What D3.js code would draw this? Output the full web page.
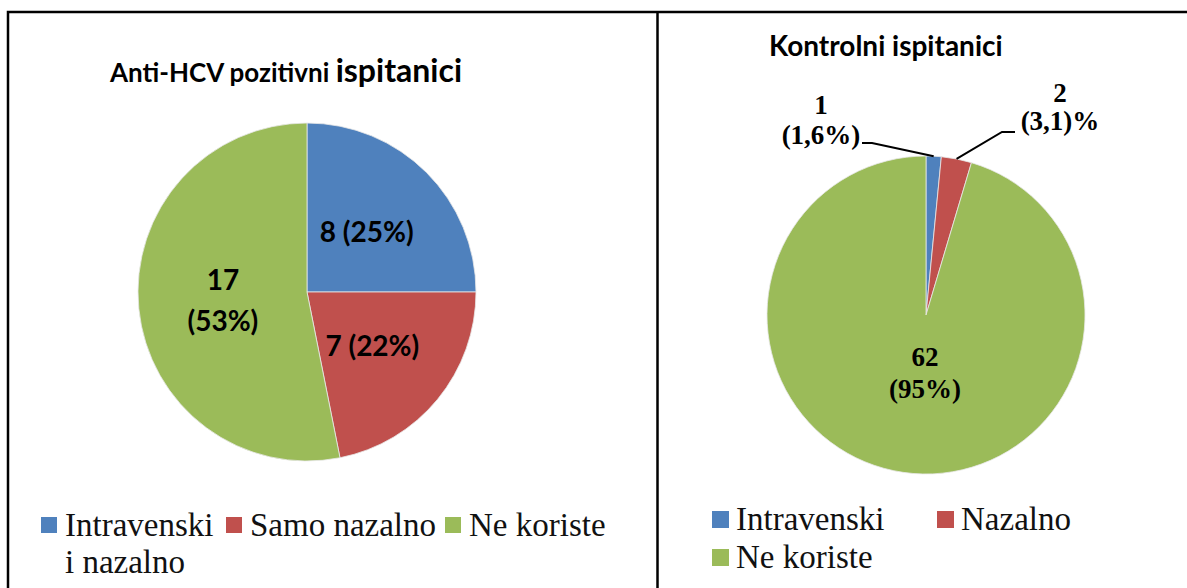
<!DOCTYPE html>
<html>
<head>
<meta charset="utf-8">
<script src="https://cdn.jsdelivr.net/npm/d3@7"></script>
<style>
  body { margin: 0; background: #fff; }
  svg { display: block; }
</style>
</head>
<body>
<svg id="chart" width="1187" height="588"></svg>
<script>
// categories and values
var leftCategories = ["Intravenski", "Samo nazalno", "Ne koriste"];
var leftValues = [8, 7, 17];
var leftLabels = [["8 (25%)"], ["7 (22%)"], ["17", "(53%)"]];

var rightCategories = ["Intravenski", "Nazalno", "Ne koriste"];
var rightValues = [1, 2, 62];
var rightLabels = [["1", "(1,6%)"], ["2", "(3,1)%"], ["62", "(95%)"]];

var colors = ["#4F81BD", "#C0504D", "#9BBB59"];

var svg = d3.select("#chart");

// frames
svg.append("path")
    .attr("d", "M8,589 L8,12 L1188,12 M657.5,12 L657.5,589")
    .attr("fill", "none")
    .attr("stroke", "#000")
    .attr("stroke-width", 2.5);

var pie = d3.pie().sort(null);

// ---------- Left pie ----------
var left = svg.append("g").attr("transform", "translate(307,292)");
var rL = 169;
var arcL = d3.arc().innerRadius(0).outerRadius(rL);
var leftArcs = pie(leftValues);

left.selectAll("path")
    .data(leftArcs)
    .enter()
    .append("path")
    .attr("d", arcL)
    .attr("fill", function (d, i) { return colors[i]; })
    .attr("stroke", "#e8e8e8")
    .attr("stroke-width", 0.8);

var labelArcL = d3.arc().innerRadius(rL * 0.5).outerRadius(rL * 0.5);
left.selectAll(".lbl")
    .data(leftArcs)
    .enter()
    .append("text")
    .attr("class", "lbl")
    .attr("transform", function (d) { return "translate(" + labelArcL.centroid(d) + ")"; })
    .attr("text-anchor", "middle")
    .style("font-family", "Lato, 'Open Sans', sans-serif")
    .style("font-weight", "bold")
    .style("font-size", "28px")
    .each(function (d, i) {
        var lines = leftLabels[i];
        var t = d3.select(this);
        lines.forEach(function (s, k) {
            t.append("tspan")
                .attr("x", 0)
                .attr("y", (k - (lines.length - 1) / 2) * 41 + 10)
                .text(s);
        });
    });

// title left
var tl = svg.append("text")
    .attr("x", 110)
    .attr("y", 82)
    .style("font-family", "Lato, 'Open Sans', sans-serif")
    .style("font-weight", "bold");
tl.append("tspan").style("font-size", "26px").text("Anti-HCV pozitivni ");
tl.append("tspan").style("font-size", "32px").text("ispitanici");

// legend left
var legL = svg.append("g").style("font-family", "'Liberation Serif', serif").style("font-size", "33px");
var legLpos = [[41, 536], [226, 536], [445, 536]];
leftCategories.forEach(function (c, i) {
    legL.append("rect")
        .attr("x", legLpos[i][0]).attr("y", legLpos[i][1] - 19)
        .attr("width", 16).attr("height", 16)
        .attr("fill", colors[i]);
    legL.append("text")
        .attr("x", legLpos[i][0] + 24).attr("y", legLpos[i][1])
        .attr("fill", "#111")
        .text(c);
});
legL.append("text").attr("x", 65).attr("y", 573).attr("fill", "#111").text("i nazalno");

// ---------- Right pie ----------
var cxR = 926, cyR = 315, rR = 159;
var right = svg.append("g").attr("transform", "translate(" + cxR + "," + cyR + ")");
var arcR = d3.arc().innerRadius(0).outerRadius(rR);
var rightArcs = pie(rightValues);

right.selectAll("path")
    .data(rightArcs)
    .enter()
    .append("path")
    .attr("d", arcR)
    .attr("fill", function (d, i) { return colors[i]; })
    .attr("stroke", "#e8e8e8")
    .attr("stroke-width", 0.8);

// label positions for the right pie (leader lines for the small slices)
var rightLabelPos = [[821, 114], [1060, 102], [925, 366]];
var lineGap = [30, 28, 32];
var elbows = [[872, 143], [1002, 132]];

rightArcs.forEach(function (d, i) {
    var p = rightLabelPos[i];
    var t = svg.append("text")
        .attr("text-anchor", "middle")
        .style("font-family", "'Liberation Serif', 'Times New Roman', serif")
        .style("font-weight", "bold")
        .style("font-size", "27px")
        .attr("fill", "#000");
    rightLabels[i].forEach(function (s, k) {
        t.append("tspan").attr("x", p[0]).attr("y", p[1] + k * lineGap[i]).text(s);
    });
    if (i < 2) {
        var mid = (d.startAngle + d.endAngle) / 2;
        var edge = [cxR + Math.sin(mid) * rR, cyR - Math.cos(mid) * rR];
        var start = i === 0 ? [862, 143] : [1015, 132];
        svg.append("polyline")
            .attr("points", [start, elbows[i], edge].map(function (q) { return q.join(","); }).join(" "))
            .attr("fill", "none")
            .attr("stroke", "#000")
            .attr("stroke-width", 2);
    }
});

// title right
svg.append("text")
    .attr("x", 769)
    .attr("y", 56)
    .style("font-family", "Lato, 'Open Sans', sans-serif")
    .style("font-weight", "bold")
    .style("font-size", "28px")
    .text("Kontrolni ispitanici");

// legend right
var legR = svg.append("g").style("font-family", "'Liberation Serif', serif").style("font-size", "33px");
var legRpos = [[712, 530], [937, 530], [712, 568]];
rightCategories.forEach(function (c, i) {
    legR.append("rect")
        .attr("x", legRpos[i][0]).attr("y", legRpos[i][1] - 19)
        .attr("width", 17).attr("height", 17)
        .attr("fill", colors[i]);
    legR.append("text")
        .attr("x", legRpos[i][0] + 24).attr("y", legRpos[i][1])
        .attr("fill", "#111")
        .text(c);
});
</script>
</body>
</html>
